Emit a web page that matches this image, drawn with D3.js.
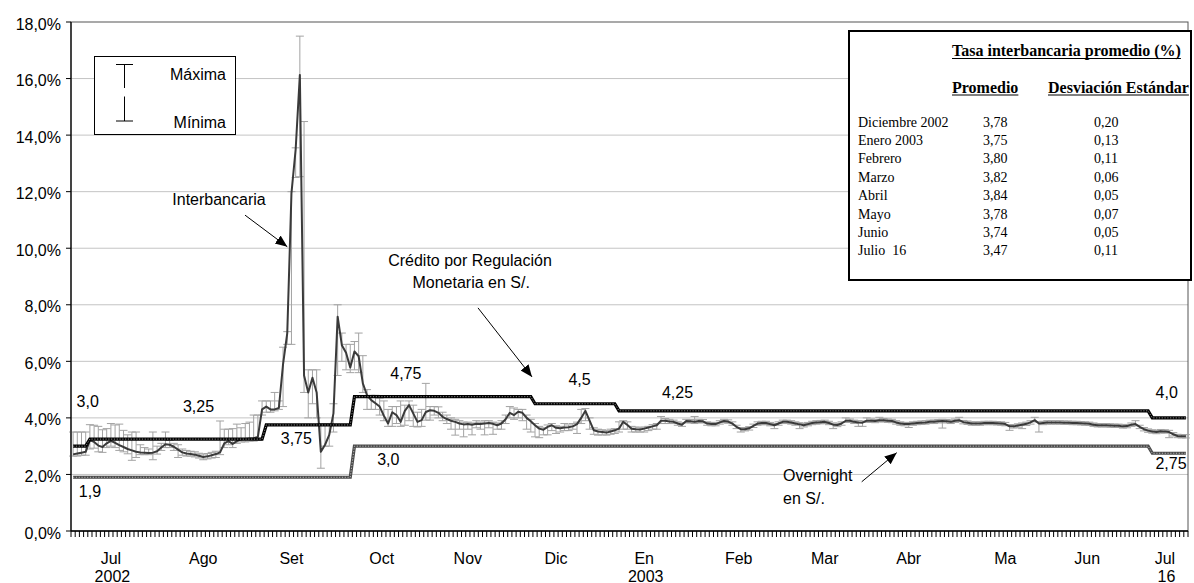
<!DOCTYPE html>
<html><head><meta charset="utf-8">
<script src="https://cdn.jsdelivr.net/npm/d3@7/dist/d3.min.js"></script>
<style>
html,body{margin:0;padding:0;background:#fff;}
svg{display:block;}
.sans{font-family:"Liberation Sans",Arial,sans-serif;}
.serif{font-family:"Liberation Serif","Times New Roman",serif;}
</style></head><body>
<svg id="c" width="1194" height="583"></svg>
<script>
// ---------- DATA ----------
// daily (business-day) interbank rate, %
const interbank = [2.71,2.74,2.77,2.80,3.21,3.15,3.02,2.97,3.10,3.19,
3.12,3.04,2.97,2.90,2.85,2.80,2.78,2.77,2.76,2.77,
2.82,2.95,3.07,3.05,2.98,2.88,2.78,2.74,2.72,2.70,
2.66,2.62,2.64,2.68,2.72,2.78,3.10,3.18,3.08,3.18,
3.24,3.25,3.27,3.28,3.33,4.30,4.40,4.30,4.30,4.35,
5.90,7.00,11.95,13.50,16.13,5.50,4.90,5.42,4.90,2.80,
3.05,3.40,4.16,7.58,6.57,6.30,5.78,6.35,6.18,5.22,
4.80,4.63,4.52,4.40,4.08,3.80,4.20,4.10,3.86,4.25,
4.45,4.16,3.86,3.92,4.21,4.27,4.25,4.18,4.04,3.96,
3.90,3.86,3.80,3.77,3.78,3.76,3.79,3.78,3.80,3.82,
3.79,3.74,3.80,3.95,4.18,4.10,4.22,4.18,4.00,3.88,
3.74,3.62,3.58,3.68,3.74,3.65,3.63,3.66,3.67,3.70,
3.78,4.00,4.25,3.90,3.56,3.52,3.50,3.48,3.52,3.56,
3.62,3.86,3.75,3.62,3.60,3.59,3.62,3.66,3.70,3.74,
3.90,3.90,3.87,3.86,3.80,3.76,3.89,3.88,3.86,3.89,
3.88,3.80,3.78,3.78,3.84,3.89,3.87,3.80,3.68,3.60,
3.60,3.63,3.72,3.80,3.82,3.82,3.78,3.74,3.80,3.86,
3.86,3.84,3.80,3.77,3.74,3.78,3.82,3.84,3.85,3.86,
3.82,3.76,3.75,3.80,3.90,3.90,3.86,3.84,3.83,3.90,
3.90,3.89,3.92,3.92,3.90,3.89,3.84,3.80,3.78,3.78,
3.80,3.82,3.83,3.84,3.86,3.86,3.88,3.89,3.88,3.86,
3.90,3.92,3.85,3.83,3.80,3.80,3.80,3.82,3.82,3.82,
3.81,3.80,3.78,3.70,3.70,3.73,3.76,3.79,3.84,3.92,
3.80,3.82,3.84,3.84,3.84,3.84,3.83,3.83,3.82,3.82,
3.81,3.80,3.79,3.76,3.74,3.74,3.74,3.73,3.72,3.72,
3.70,3.71,3.76,3.78,3.68,3.60,3.55,3.52,3.50,3.53,
3.52,3.50,3.42,3.36,3.35,3.35];

const maxima = [3.50,3.50,3.50,3.50,3.76,3.74,3.70,3.58,3.62,3.80,
3.75,3.78,3.56,3.40,3.50,3.50,3.05,2.95,2.90,3.50,
3.00,3.10,3.50,3.20,3.10,3.05,2.90,2.85,2.82,2.80,
2.75,2.72,2.74,2.78,2.82,3.89,3.60,3.60,3.62,3.78,
3.65,3.80,3.85,4.10,4.10,4.60,4.60,4.60,4.90,4.60,
6.50,7.05,12.00,13.55,17.50,14.48,5.70,5.70,5.70,3.80,
3.80,3.80,4.50,8.00,7.00,6.60,6.60,6.70,7.00,6.20,
5.00,4.80,4.80,4.70,4.60,4.30,4.40,4.40,4.60,4.45,
4.60,4.45,4.20,4.30,5.22,4.40,4.40,4.39,4.20,4.10,
4.00,3.95,3.90,3.85,3.85,3.82,3.90,3.85,3.90,3.90,
3.85,3.82,3.90,4.10,4.40,4.35,4.30,4.30,4.10,3.95,
3.80,3.70,3.65,3.75,3.80,3.72,3.70,3.80,3.75,3.80,
3.85,4.30,4.33,4.00,3.65,3.60,3.58,3.55,3.60,3.62,
3.86,3.90,3.86,3.70,3.68,3.65,3.68,3.70,3.76,3.80,
4.05,3.98,3.95,3.92,3.86,3.82,3.95,3.94,4.05,3.95,
3.94,3.86,3.84,3.84,3.90,3.95,3.93,3.86,3.74,3.66,
3.66,3.69,3.78,3.86,3.88,3.88,3.84,3.80,3.86,3.92,
3.92,3.90,3.86,3.83,3.80,3.84,3.88,3.90,3.91,3.92,
3.88,3.82,3.81,3.86,4.00,3.96,3.92,3.90,3.89,4.00,
3.96,3.95,4.02,3.98,3.96,3.95,3.90,3.86,3.84,3.84,
3.86,3.88,3.89,3.90,3.92,3.92,3.94,3.95,3.94,3.92,
3.96,4.02,3.91,3.89,3.86,3.86,3.86,3.88,3.88,3.88,
3.87,3.86,3.84,3.76,3.76,3.79,3.82,3.85,3.90,4.02,
3.86,3.88,3.90,3.90,3.90,3.90,3.89,3.89,3.88,3.88,
3.87,3.86,3.85,3.82,3.80,3.80,3.80,3.79,3.78,3.78,
3.76,3.77,3.82,3.90,3.74,3.66,3.61,3.58,3.56,3.59,
3.58,3.56,3.48,3.42,3.41,3.41];

const minima = [2.65,2.65,2.68,2.68,2.90,2.93,2.80,2.78,2.95,3.00,
2.95,2.85,2.80,2.73,2.50,2.60,2.70,2.70,2.70,2.52,
2.72,2.85,2.95,2.95,2.85,2.60,2.68,2.65,2.65,2.62,
2.58,2.52,2.55,2.58,2.60,2.70,2.95,3.05,2.95,3.10,
3.15,3.15,3.18,3.18,3.20,4.10,4.20,4.20,4.25,4.30,
4.40,6.60,6.60,12.50,12.53,4.90,4.00,4.50,4.00,2.22,
3.00,3.00,3.50,5.50,6.00,5.70,5.60,5.70,5.60,4.90,
4.30,4.30,4.30,4.10,3.90,3.70,3.70,3.80,3.70,3.74,
3.90,3.70,3.68,3.70,3.92,3.92,4.10,4.00,3.90,3.80,
3.60,3.39,3.60,3.33,3.60,3.40,3.65,3.60,3.40,3.65,
3.42,3.60,3.60,3.80,4.00,3.95,4.00,3.90,3.60,3.50,
3.33,3.30,3.40,3.40,3.55,3.45,3.50,3.55,3.55,3.60,
3.45,3.80,3.90,3.60,3.42,3.39,3.40,3.39,3.42,3.45,
3.50,3.60,3.60,3.50,3.50,3.50,3.50,3.55,3.60,3.60,
3.80,3.80,3.80,3.80,3.74,3.70,3.83,3.82,3.80,3.83,
3.82,3.74,3.72,3.72,3.78,3.83,3.81,3.74,3.62,3.50,
3.54,3.57,3.66,3.74,3.76,3.76,3.72,3.62,3.74,3.80,
3.80,3.78,3.74,3.62,3.68,3.72,3.76,3.78,3.79,3.80,
3.76,3.62,3.69,3.74,3.84,3.84,3.80,3.70,3.70,3.84,
3.84,3.83,3.86,3.86,3.84,3.83,3.78,3.74,3.72,3.66,
3.74,3.76,3.77,3.78,3.80,3.80,3.82,3.64,3.82,3.80,
3.84,3.86,3.79,3.77,3.74,3.74,3.74,3.76,3.76,3.76,
3.75,3.74,3.72,3.56,3.64,3.67,3.62,3.73,3.78,3.86,
3.50,3.76,3.78,3.78,3.78,3.78,3.77,3.77,3.76,3.76,
3.75,3.74,3.73,3.70,3.68,3.68,3.68,3.67,3.66,3.66,
3.64,3.65,3.70,3.72,3.62,3.54,3.49,3.46,3.44,3.47,
3.46,3.30,3.36,3.30,3.29,3.29];

// step series: level and the day index from which it applies
const creditLevels = [3.0, 3.25, 3.75, 4.75, 4.5, 4.25, 4.0];
const creditStart  = [0, 4, 46, 67, 110, 130, 257];
const creditLabels = ["3,0","3,25","3,75","4,75","4,5","4,25","4,0"];
const overnightLevels = [1.9, 3.0, 2.75];
const overnightStart  = [0, 67, 257];
const overnightLabels = ["1,9","3,0","2,75"];

// x axis (category = business day)
const monthLabels = ["Jul","Ago","Set","Oct","Nov","Dic","En","Feb","Mar","Abr","Ma","Jun","Jul"];
const yearLabels  = ["2002","","","","","","2003","","","","","","16"];
const monthLabelDay = [9,31,52,73.5,94,115,136,158.5,179,199,222,241.5,260];
// y axis
const yTicks = [0,2,4,6,8,10,12,14,16,18];
const yTickLabels = ["0,0%","2,0%","4,0%","6,0%","8,0%","10,0%","12,0%","14,0%","16,0%","18,0%"];

// inset table
const tableMonths = ["Diciembre 2002","Enero 2003","Febrero","Marzo","Abril","Mayo","Junio","Julio  16"];
const tablePromedio = ["3,78","3,75","3,80","3,82","3,84","3,78","3,74","3,47"];
const tableDesv = ["0,20","0,13","0,11","0,06","0,05","0,07","0,05","0,11"];

// ---------- CHART ----------
const svg = d3.select("#c");
const N = interbank.length;
const L = 71, R = 1188, T = 22, B = 531;
const x = d3.scaleLinear().domain([0, N]).range([L, R]);
const y = d3.scaleLinear().domain([0, 18]).range([B, T]);
const cx = i => x(i + 0.5);

function expandSteps(levels, starts){
  const out = new Array(N);
  for (let k = 0; k < levels.length; k++){
    const end = k + 1 < starts.length ? starts[k+1] : N;
    for (let i = starts[k]; i < end; i++) out[i] = levels[k];
  }
  return out;
}
const credit = expandSteps(creditLevels, creditStart);
const overnight = expandSteps(overnightLevels, overnightStart);

// gridlines
svg.append("g").selectAll("line").data(yTicks.filter(v => v > 0 && v < 18)).join("line")
  .attr("x1", L).attr("x2", R).attr("y1", d => y(d)).attr("y2", d => y(d))
  .attr("stroke", "#c4c4c4").attr("stroke-width", 1);

// frame
svg.append("rect").attr("x", L).attr("y", y(18)).attr("width", R - L).attr("height", B - y(18))
  .attr("fill", "none").attr("stroke", "#555").attr("stroke-width", 1);

// error bars
const eb = svg.append("g").attr("stroke", "#a3a3a3").attr("stroke-width", 1).attr("fill", "none");
const capW = 4;
interbank.forEach((v, i) => {
  const xx = cx(i), yh = y(maxima[i]), yl = y(minima[i]);
  eb.append("path").attr("d",
    `M${xx},${yh}V${yl}M${xx-capW},${yh}H${xx+capW}M${xx-capW},${yl}H${xx+capW}`);
});

// interbank line
const line = d3.line().x((d, i) => cx(i)).y(d => y(d));
svg.append("path").datum(interbank).attr("d", line)
  .attr("fill", "none").attr("stroke", "#3a3a3a").attr("stroke-width", 2).attr("stroke-linejoin", "round");

// step lines
function stepLine(data, base, hl){
  svg.append("path").datum(data).attr("d", line).attr("fill", "none")
    .attr("stroke", base).attr("stroke-width", 3.2);
  svg.append("path").datum(data).attr("d", line).attr("fill", "none")
    .attr("stroke", hl).attr("stroke-width", 0.9).attr("stroke-dasharray", "1.2,1.6");
}
stepLine(overnight, "#4a4a4a", "#c8c8c8");
stepLine(credit, "#000", "#9a9a9a");

// axes
svg.append("line").attr("x1", L).attr("x2", L).attr("y1", y(18)).attr("y2", B)
  .attr("stroke", "#000").attr("stroke-width", 1.2);
svg.append("line").attr("x1", L).attr("x2", R).attr("y1", B).attr("y2", B)
  .attr("stroke", "#000").attr("stroke-width", 1.4);
svg.append("g").selectAll("line").data(d3.range(N + 1)).join("line")
  .attr("x1", d => x(d)).attr("x2", d => x(d)).attr("y1", B).attr("y2", B + 6)
  .attr("stroke", "#000").attr("stroke-width", 1);
svg.append("g").selectAll("line").data(yTicks).join("line")
  .attr("x1", L - 5).attr("x2", L).attr("y1", d => y(d)).attr("y2", d => y(d))
  .attr("stroke", "#000");
svg.append("g").attr("class", "sans").selectAll("text").data(yTicks).join("text")
  .attr("x", 61).attr("y", d => y(d) + 7.5).attr("text-anchor", "end")
  .attr("font-size", 16).attr("fill", "#000").text((d, i) => yTickLabels[i]);

const xl = svg.append("g").attr("class", "sans").attr("font-size", 16).attr("text-anchor", "middle");
monthLabels.forEach((m, j) => {
  xl.append("text").attr("x", cx(monthLabelDay[j])).attr("y", 563.5).text(m);
  if (yearLabels[j]) xl.append("text").attr("x", cx(monthLabelDay[j]) + 1.5).attr("y", 581.5).text(yearLabels[j]);
});

// rate labels (placed in data units)
const ann = svg.append("g").attr("class", "sans").attr("font-size", 16).attr("fill", "#000");
const creditLabelPos = [[3.98,4.38],[30.36,4.22],[53.66,3.08],[79.74,5.38],[121.1,5.15],[144.43,4.71],[260.93,4.71]];
const overnightLabelPos = [[4.52,1.21],[75.57,2.33],[261.95,2.18]];
creditLabels.forEach((t, k) => ann.append("text").attr("text-anchor", "middle")
  .attr("x", x(creditLabelPos[k][0])).attr("y", y(creditLabelPos[k][1])).text(t));
overnightLabels.forEach((t, k) => ann.append("text").attr("text-anchor", "middle")
  .attr("x", x(overnightLabelPos[k][0])).attr("y", y(overnightLabelPos[k][1])).text(t));

// text annotations + arrows
svg.append("defs").append("marker").attr("id", "ah").attr("markerUnits", "userSpaceOnUse")
  .attr("markerWidth", 14).attr("markerHeight", 12).attr("refX", 12).attr("refY", 5)
  .attr("orient", "auto").append("path").attr("d", "M0,0L12,5L0,10Z").attr("fill", "#000");
function arrow(d0, v0, d1, v1){
  svg.append("line").attr("x1", x(d0)).attr("y1", y(v0)).attr("x2", x(d1)).attr("y2", y(v1))
    .attr("stroke", "#000").attr("stroke-width", 1).attr("marker-end", "url(#ah)");
}
ann.append("text").attr("x", x(24.12)).attr("y", y(11.52)).text("Interbancaria");
arrow(41.44, 11.17, 51.51, 10.05);
ann.append("text").attr("text-anchor", "middle").attr("x", x(95.02)).attr("y", y(9.37)).text("Crédito por Regulación");
ann.append("text").attr("text-anchor", "middle").attr("x", x(95.3)).attr("y", y(8.59)).text("Monetaria en S/.");
arrow(96.92, 7.89, 109.78, 5.45);
ann.append("text").attr("x", x(169.56)).attr("y", y(1.77)).text("Overnight");
ann.append("text").attr("x", x(169.56)).attr("y", y(0.94)).text("en S/.");
arrow(188.3, 1.74, 196.63, 2.77);

// legend
const lg = svg.append("g");
lg.append("rect").attr("x", 94.5).attr("y", 56.5).attr("width", 141).attr("height", 78)
  .attr("fill", "#fff").attr("stroke", "#000").attr("stroke-width", 1);
lg.append("path").attr("d", "M116,64.5H133M124.5,64.5V88M124.5,96.5V121M116,121H133")
  .attr("stroke", "#000").attr("fill", "none");
lg.append("text").attr("class", "sans").attr("font-size", 16).attr("text-anchor", "end")
  .attr("x", 226).attr("y", 80).text("Máxima");
lg.append("text").attr("class", "sans").attr("font-size", 16).attr("text-anchor", "end")
  .attr("x", 226).attr("y", 127.5).text("Mínima");

// inset table
const tb = svg.append("g").attr("class", "serif").attr("fill", "#000");
tb.append("rect").attr("x", 849).attr("y", 31).attr("width", 342).attr("height", 249)
  .attr("fill", "#fff").attr("stroke", "#000").attr("stroke-width", 2);
function uText(txt, xx, yy, size){
  const t = tb.append("text").attr("x", xx).attr("y", yy).attr("font-size", size)
    .attr("font-weight", "bold").text(txt);
  const w = t.node().getComputedTextLength();
  tb.append("line").attr("x1", xx).attr("x2", xx + w).attr("y1", yy + 2.5).attr("y2", yy + 2.5)
    .attr("stroke", "#000").attr("stroke-width", 1);
}
uText("Tasa interbancaria promedio (%)", 952, 56, 16);
uText("Promedio", 952, 92.5, 16);
uText("Desviación Estándar", 1048, 92.5, 16);
tableMonths.forEach((m, k) => {
  const yy = 126.5 + k * 18.4;
  tb.append("text").attr("x", 858).attr("y", yy).attr("font-size", 14)
    .style("white-space", "pre").text(m);
  tb.append("text").attr("x", 983).attr("y", yy).attr("font-size", 14).text(tablePromedio[k]);
  tb.append("text").attr("x", 1094).attr("y", yy).attr("font-size", 14).text(tableDesv[k]);
});
</script>
</body></html>
